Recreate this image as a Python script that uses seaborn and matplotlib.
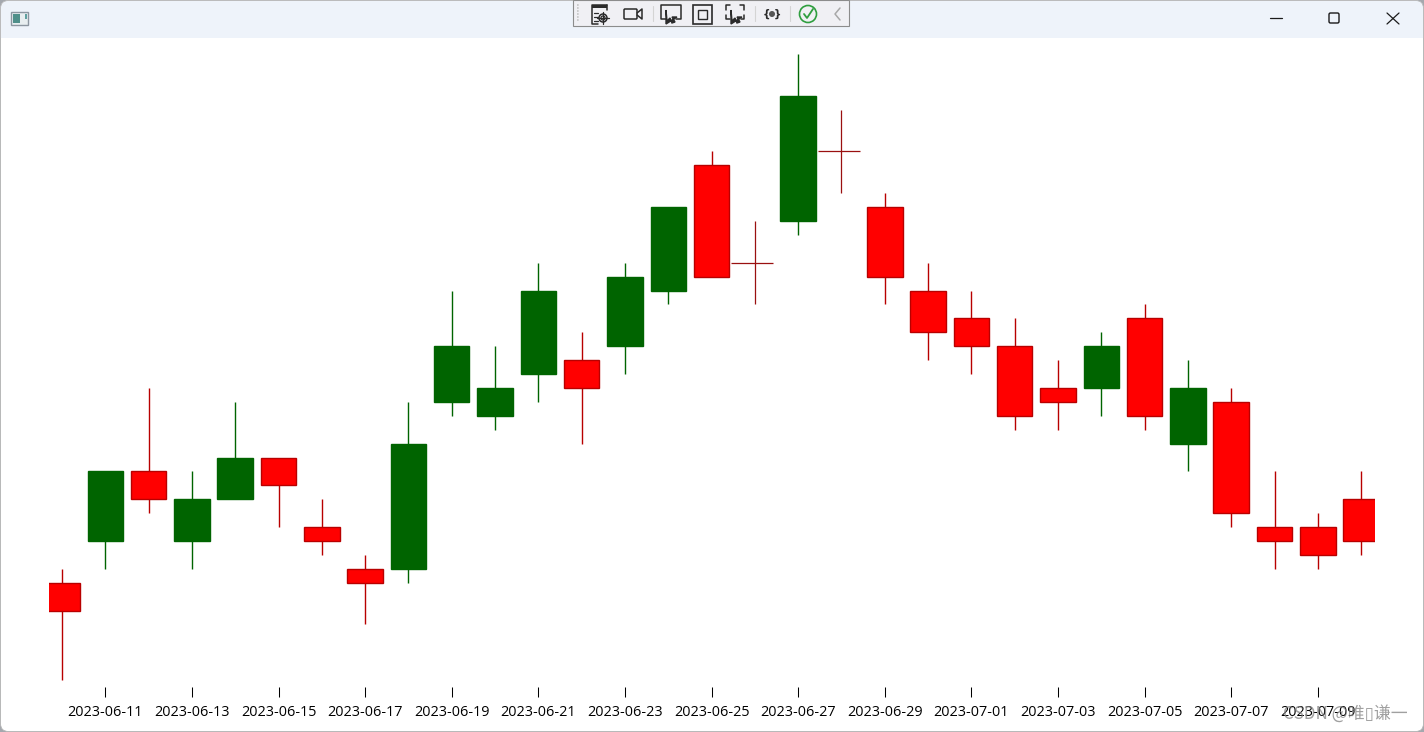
import numpy as np
import pandas as pd
import matplotlib
matplotlib.use('Agg')
import matplotlib.pyplot as plt
from matplotlib.patches import FancyBboxPatch, Rectangle, Circle
import seaborn as sns

# datos de las velas
fechas = pd.date_range('2023-06-10', '2023-07-10').strftime('%Y-%m-%d').tolist()
apertura = [7, 10, 15, 10, 13, 16, 11, 8, 8, 20, 19, 22, 23, 24, 28, 37, 30, 33, 38, 34, 28, 26, 24, 21, 21, 26, 17, 20, 11, 11, 13]
cierre = [5, 15, 13, 13, 16, 14, 10, 7, 17, 24, 21, 28, 21, 29, 34, 29, 30, 42, 38, 29, 25, 24, 19, 20, 24, 19, 21, 12, 10, 9, 10]
maximo = [8, 15, 21, 15, 20, 16, 13, 9, 20, 28, 24, 30, 25, 30, 34, 38, 33, 45, 41, 35, 30, 28, 26, 23, 25, 27, 23, 21, 15, 12, 15]
minimo = [0, 8, 12, 8, 13, 11, 9, 4, 7, 19, 18, 20, 17, 22, 27, 29, 27, 32, 35, 27, 23, 22, 18, 18, 19, 18, 15, 11, 8, 8, 9]

ROJO = '#ff0000'
ROJO_OSCURO = '#b80000'
VERDE = '#006400'

sns.set_theme(style='white')
plt.rcParams['font.family'] = ['Open Sans', 'Noto Sans CJK SC', 'DejaVu Sans']

data = pd.DataFrame({'fecha': fechas, 'open': apertura, 'close': cierre, 'high': maximo, 'low': minimo})
data['pos'] = np.arange(len(data))
data['base'] = data[['open', 'close']].min(axis=1)
data['alto'] = (data['close'] - data['open']).abs()

W, H = 1424, 732
fig = plt.figure(figsize=(W / 100, H / 100), dpi=100, facecolor='#a4a8ae')

# ventana y barra de titulo, en pixeles
win = fig.add_axes([0, 0, 1, 1], zorder=1)
win.set_xlim(0, W)
win.set_ylim(H, 0)
win.axis('off')
marco = FancyBboxPatch((0.5, 0.5), W - 1, H - 1, boxstyle='round,pad=0,rounding_size=8',
                       fc='white', ec='none')
win.add_patch(marco)
titulo = Rectangle((0, 0), W, 38, fc='#eef3fa', ec='none')
win.add_patch(titulo)
titulo.set_clip_path(marco)
win.add_patch(FancyBboxPatch((0.5, 0.5), W - 1, H - 1, boxstyle='round,pad=0,rounding_size=8',
                             fc='none', ec='#b4b4b4', lw=0.6))

ax = fig.add_axes([49 / W, 1 - 687.1 / H, (1375 - 49) / W, (687.1 - 47.1) / H], zorder=2)
ax.patch.set_alpha(0)

subida = data[data['close'] > data['open']]
bajada = data[data['close'] < data['open']]
doji = data[data['close'] == data['open']]

ax.vlines(subida['pos'], subida['low'], subida['high'], color=VERDE, lw=1.0, zorder=1)
ax.vlines(bajada['pos'], bajada['low'], bajada['high'], color=ROJO_OSCURO, lw=1.0, zorder=1)
ax.vlines(doji['pos'], doji['low'], doji['high'], color='#9a1010', lw=0.9, zorder=1)
ax.hlines(doji['open'], doji['pos'] - 0.55, doji['pos'] + 0.43, color='#9a1010', lw=0.9, zorder=1)

sns.barplot(x=subida['pos'].values, y=subida['alto'].values, bottom=subida['base'].values, native_scale=True,
            color=VERDE, saturation=1, width=0.82, errorbar=None, edgecolor=VERDE, linewidth=1.0, ax=ax, zorder=2)
sns.barplot(x=bajada['pos'].values, y=bajada['alto'].values, bottom=bajada['base'].values, native_scale=True,
            color=ROJO, saturation=1, width=0.82, errorbar=None, edgecolor=ROJO_OSCURO, linewidth=1.0, ax=ax, zorder=2)

ax.set_xlim(-0.3, 30.32)
ax.set_ylim(-0.5, 45.5)
ax.set_xlabel('')
ax.set_ylabel('')
ax.set_yticks([])
ax.set_xticks(data['pos'][1::2])
ax.set_xticklabels(data['fecha'][1::2])
ax.tick_params(axis='x', bottom=True, length=7.2, width=0.75, color='black', labelsize=10.4,
               labelcolor='black', pad=5.6)
sns.despine(ax=ax, left=True, bottom=True)

# barra de herramientas y botones de la ventana
top = fig.add_axes([0, 0, 1, 1], zorder=3)
top.set_xlim(0, W)
top.set_ylim(H, 0)
top.axis('off')
top.patch.set_alpha(0)
top.add_patch(Rectangle((573, 0), 276, 26, fc='#f0f0f4', ec='#8c8c8c', lw=0.8))
oscuro = '#2b2b2b'
for yy in range(5, 23, 3):
    top.plot([577, 581], [yy, yy], color='#c4c4c4', lw=1.2, ls=':')
# icono 1
top.plot([607, 592, 592, 598], [5, 5, 24, 24], color=oscuro, lw=1.1)
top.plot([607, 607], [5, 10], color=oscuro, lw=1.1)
top.add_patch(Rectangle((592, 5), 15, 3, fc=oscuro, ec='none'))
for yy in [13, 17, 21]:
    top.plot([594, 598], [yy, yy], color=oscuro, lw=0.9)
top.add_patch(Circle((603, 18), 4, fc='#f0f0f4', ec=oscuro, lw=1.1))
top.plot([603, 603], [12, 24], color=oscuro, lw=0.9)
top.plot([597, 609], [18, 18], color=oscuro, lw=0.9)
top.add_patch(Circle((603, 18), 2, fc='#f0f0f4', ec=oscuro, lw=0.9))
# camara
top.add_patch(FancyBboxPatch((624, 9), 13, 10, boxstyle='round,pad=0,rounding_size=1',
                             fc='none', ec=oscuro, lw=1.1))
top.plot([637, 642, 642, 637], [13, 9, 19, 15], color=oscuro, lw=1.1)
for xx in [653, 755, 790]:
    top.plot([xx, xx], [6, 21], color='#d4d4d4', lw=0.8)
# seleccion
top.plot([666, 661, 661, 681, 681, 676], [19, 19, 5, 5, 19, 19], color=oscuro, lw=1.1)
top.fill([666, 666, 677, 672, 675, 672, 670, 667], [10, 24, 17, 17, 22, 23, 18, 21], color=oscuro)
top.add_patch(Rectangle((693, 5), 19, 19, fc='none', ec=oscuro, lw=1.2))
top.add_patch(Rectangle((698, 10), 9, 9, fc='none', ec=oscuro, lw=1.0))
top.plot([726, 726, 730], [10, 5, 5], color=oscuro, lw=1.1)
top.plot([740, 744, 744], [5, 5, 10], color=oscuro, lw=1.1)
top.plot([726, 726, 730], [15, 19, 19], color=oscuro, lw=1.1)
top.plot([744, 744, 741], [15, 19, 19], color=oscuro, lw=1.1)
top.fill([731, 731, 742, 737, 740, 737, 735, 732], [10, 24, 17, 17, 22, 23, 18, 21], color=oscuro)
top.text(772, 14, '{ }', ha='center', va='center', fontsize=7.5, color=oscuro, family='DejaVu Sans', weight='bold')
top.add_patch(Circle((772, 14), 3, fc='#555555', ec='none'))
top.add_patch(Circle((808, 14), 8.5, fc='none', ec='#2f9e3f', lw=1.2))
top.plot([804, 807, 813], [14, 18, 9], color='#2f9e3f', lw=1.3)
top.plot([840, 835, 840], [8, 14, 20], color='#a8a8a8', lw=1.1)
# icono de ventana
top.add_patch(Rectangle((11, 12), 17, 13, fc='#e8eef0', ec='#8c96a0', lw=1.0))
top.add_patch(Rectangle((13, 14), 7, 9, fc='#4f8f8a', ec='none'))
top.add_patch(Rectangle((25, 14), 1.5, 5, fc='#5fa0a0', ec='none'))
# minimizar, maximizar, cerrar
top.plot([1270, 1282], [18, 18], color='#1a1a1a', lw=0.9)
top.add_patch(FancyBboxPatch((1329, 13), 10, 10, boxstyle='round,pad=0,rounding_size=1.5',
                             fc='none', ec='#1a1a1a', lw=1.0))
top.plot([1387, 1399], [13, 24], color='#1a1a1a', lw=0.9)
top.plot([1387, 1399], [24, 13], color='#1a1a1a', lw=0.9)
# marca de agua
top.text(1408, 714, 'CSDN @唯▯谦一', ha='right', va='center', fontsize=12.2, color='#808080', alpha=0.75,
         family=['Noto Sans CJK SC', 'DejaVu Sans'])

plt.savefig('out.png', dpi=100, facecolor=fig.get_facecolor())
